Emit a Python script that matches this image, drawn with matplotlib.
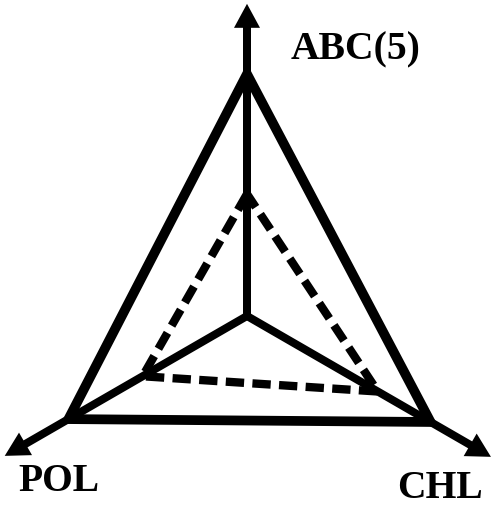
import numpy as np
import matplotlib
matplotlib.use('Agg')
import matplotlib.pyplot as plt
from matplotlib.patches import Polygon

# axes of the diagram (angle in degrees, math convention)
labels = ['ABC(5)', 'POL', 'CHL']
angles = [90, 210, 330]
axis_len = [6.45, 5.78, 5.82]

# two profiles, values along each axis
solid_vals = [5.0, 4.26, 4.38]
dashed_vals = [2.52, 2.49, 3.12]

W, H = 492, 506
cx, cy = 247, 506 - 317
unit = 48.4  # pixels per unit

def xy(vals):
    th = np.radians(angles)
    r = np.array(vals) * unit
    return np.column_stack([cx + r*np.cos(th), cy + r*np.sin(th)])

fig = plt.figure(figsize=(W/100, H/100), dpi=100)
ax = fig.add_axes([0, 0, 1, 1])
ax.set_xlim(0, W)
ax.set_ylim(0, H)
ax.set_aspect('equal')
ax.axis('off')

# axes with arrow heads
tips = xy(axis_len)
for tx, ty in tips:
    ax.arrow(cx, cy, tx-cx, ty-cy, width=8, head_width=26, head_length=24,
             length_includes_head=True, color='black', lw=0, zorder=3)

ax.add_patch(Polygon(xy(solid_vals), closed=True, fill=False, ec='black',
                     lw=7, joinstyle='miter', zorder=2))
ax.add_patch(Polygon(xy(dashed_vals), closed=True, fill=False, ec='black',
                     lw=6, linestyle=(0, (2.2, 1.0)), capstyle='butt', zorder=2))

label_pos = [(356, 506-50), (59, 506-482), (440, 506-489)]
for lab, (lx, ly) in zip(labels, label_pos):
    ax.text(lx, ly, lab, ha='center', va='center', fontsize=28.5,
            fontweight='bold', family='Liberation Serif')

fig.savefig('out.png', dpi=100)
